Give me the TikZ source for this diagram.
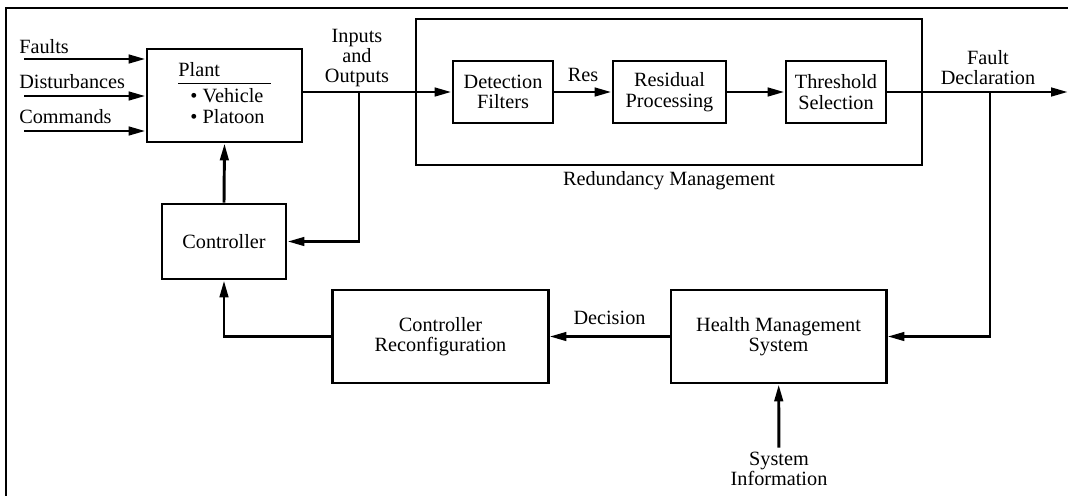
\documentclass[tikz,border=0pt]{standalone}
\usepackage{fontspec}
\setmainfont{Liberation Serif}
\usetikzlibrary{arrows.meta,positioning,calc}

\begin{document}
\begin{tikzpicture}[x=0.025cm, y=-0.025cm,
        blk/.style={draw, line width=2.1pt, align=center, inner sep=0pt},
        txt/.style={align=center, inner sep=0pt},
        wire/.style={line width=2.1pt},
        >={Triangle[length=12pt,width=6pt]},
        font=\fontsize{14.4}{14.5}\selectfont
    ]
        \useasboundingbox (0,0) rectangle (1068,496);
        % frame, only top and left are visible
        \draw[wire] (1068,8) -- (6,8) -- (6,496);

        % plant and controller
        \node[blk, minimum width=3.875cm, minimum height=2.325cm] (plant) at (224.5,95.5)
            {\begin{tabular}{@{}l@{}}Plant\\[-9pt]\rule{2.3cm}{0.8pt}\\[-1pt]
             \hspace*{0.3cm}\textbullet\ Vehicle\\\hspace*{0.3cm}\textbullet\ Platoon\end{tabular}};
        \node[blk, minimum width=3.1cm, minimum height=1.875cm] (ctrl) at (224,241.5) {Controller};

        % redundancy management
        \node[draw, line width=0.85pt, minimum width=12.65cm, minimum height=3.65cm] (redund) at (669,92) {};
        \node[txt] (redlbl) at (669,181) {Redundancy Management};
        \node[blk, minimum width=2.5cm, minimum height=1.55cm] (detect) at (503,92) {Detection\\Filters};
        \node[blk, minimum width=2.825cm, minimum height=1.55cm] (resid) at (669.5,92) {Residual\\Processing};
        \node[blk, minimum width=2.5cm, minimum height=1.55cm] (thresh) at (836,92) {Threshold\\Selection};

        % health management loop
        \node[blk, minimum width=5.375cm, minimum height=2.325cm] (reconf) at (440.5,336.5) {Controller\\Reconfiguration};
        \node[blk, minimum width=5.375cm, minimum height=2.325cm] (hms) at (778.5,336.5) {Health Management\\System};
        \node[txt, inner sep=3pt] (sysinfo) at (779,469) {System\\Information};

        % inputs
        \coordinate (fin) at (24,59);
        \coordinate (din) at (24,96);
        \coordinate (cin) at (24,131);
        \node[txt, anchor=west] (faultlbl) at (19,47) {Faults};
        \node[txt, anchor=west] (distlbl) at (19,82) {Disturbances};
        \node[txt, anchor=west] (cmdlbl) at (19,117) {Commands};
        \draw[wire,->] (fin) -- (fin -| plant.west);
        \draw[wire,->] (din) -- (din -| plant.west);
        \draw[wire,->] (cin) -- (cin -| plant.west);

        % signal path
        \node[txt] (iolbl) at (357,58) {Inputs\\and\\Outputs};
        \coordinate (iotap) at (359,92);
        \draw[wire,->] (plant.east |- detect.west) -- (detect.west);
        \draw[wire,->] (iotap) |- (ctrl.east);
        \draw[wire,->] (ctrl.north) -- (plant.south);
        \draw[wire,->] (detect) -- node[txt, above=6.4pt]{Res} (resid);
        \draw[wire,->] (resid) -- (thresh);

        \node[txt] (fdlbl) at (988,67.5) {Fault\\Declaration};
        \coordinate (fdout) at (1068,92);
        \coordinate (fdtap) at (990,92);
        \draw[wire,->] (thresh) -- (fdout);
        \draw[wire,->] (fdtap) |- (hms.east);
        \draw[wire,->] (hms) -- node[txt, above=7pt]{Decision} (reconf);
        \draw[wire,->] (reconf.west) -| (ctrl.south);
        \draw[wire,->] (sysinfo) -- (hms);
    \end{tikzpicture}
\end{document}
